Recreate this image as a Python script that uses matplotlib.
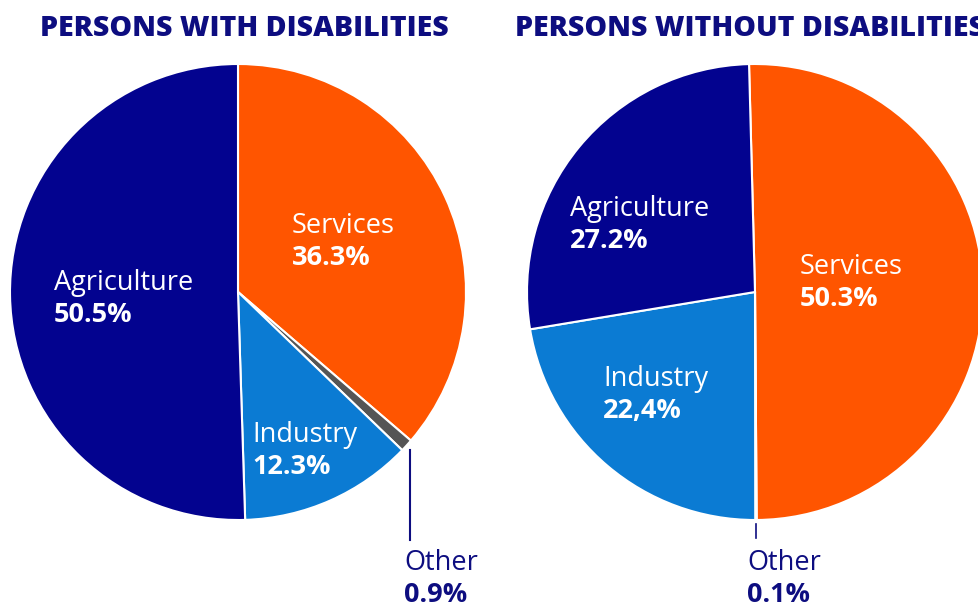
import matplotlib
matplotlib.use("Agg")
import matplotlib.pyplot as plt

# Employment by sector, share of employed persons (%)
sectors_with = ["Services", "Other", "Industry", "Agriculture"]
shares_with = [36.3, 0.9, 12.3, 50.5]
labels_with = ["36.3%", "0.9%", "12.3%", "50.5%"]

sectors_without = ["Services", "Other", "Industry", "Agriculture"]
shares_without = [50.3, 0.1, 22.4, 27.2]
labels_without = ["50.3%", "0.1%", "22,4%", "27.2%"]

titles = ["PERSONS WITH DISABILITIES", "PERSONS WITHOUT DISABILITIES"]

colors = {
    "Services": "#FF5500",
    "Other": "#555555",
    "Industry": "#0B7BD3",
    "Agriculture": "#03038F",
}
NAVY = "#0D0D80"

W, H = 979, 604
fig = plt.figure(figsize=(W / 100, H / 100), dpi=100)
ax = fig.add_axes([0, 0, 1, 1])

FONT = "Open Sans"
R = 228


def y(py):
    return H - py


def draw_pie(cx, cy, shares, sectors, start):
    ax.pie(shares, colors=[colors[s] for s in sectors], startangle=start,
           counterclock=False, center=(cx, y(cy)), radius=R,
           wedgeprops=dict(edgecolor="white", linewidth=1.5), frame=True)


draw_pie(238, 292, shares_with, sectors_with, 90)
draw_pie(755, 292, shares_without, sectors_without, 91.5)
ax.set_xlim(0, W)
ax.set_ylim(0, H)
ax.set_aspect("equal")
ax.axis("off")


def label(x, py, name, value, color="white"):
    ax.text(x, y(py), name, fontsize=19.5, family=FONT, color=color,
            ha="left", va="center")
    ax.text(x, y(py + 32), value, fontsize=19.5, family=FONT, color=color,
            fontweight="bold", ha="left", va="center")


label(292, 226, sectors_with[0], labels_with[0])
label(252, 435, sectors_with[2], labels_with[2])
label(54, 283, sectors_with[3], labels_with[3])
label(404, 563, sectors_with[1], labels_with[1], color=NAVY)

label(800, 267, sectors_without[0], labels_without[0])
label(603, 379, sectors_without[2], labels_without[2])
label(570, 209, sectors_without[3], labels_without[3])
label(747, 563, sectors_without[1], labels_without[1], color=NAVY)

# leader lines for the small "Other" slices
ax.plot([410, 410], [y(450), y(540)], color=NAVY, lw=1.5)
ax.plot([756, 756], [y(524), y(538)], color=NAVY, lw=1.2)

ax.text(244, y(29), titles[0], fontsize=20.5, family=FONT, fontweight="heavy",
        color=NAVY, ha="center", va="center")
ax.text(515, y(29), titles[1], fontsize=20.5, family=FONT, fontweight="heavy",
        color=NAVY, ha="left", va="center")

fig.savefig("out.png", dpi=100, facecolor="white")
